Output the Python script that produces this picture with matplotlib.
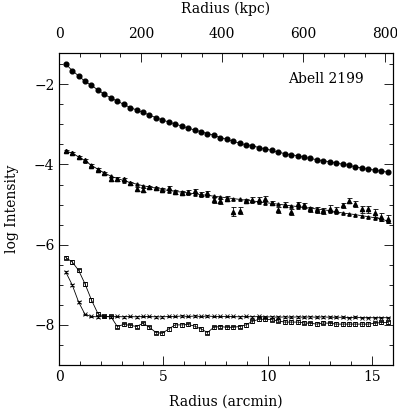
"""
Abell 2199 surface brightness profiles
"""

import matplotlib
matplotlib.use('Agg')
import matplotlib.pyplot as plt
from matplotlib.ticker import MultipleLocator
import numpy as np

# radial bins (arcmin), same grid for every profile
step = 0.309
nbins = 51
kpc_per_arcmin = 51.2

# filled circles
circ_y = [-1.49, -1.66, -1.79, -1.93, -2.03, -2.14, -2.25, -2.34, -2.42, -2.50,
          -2.58, -2.64, -2.70, -2.77, -2.83, -2.89, -2.94, -2.99, -3.04, -3.09,
          -3.14, -3.18, -3.23, -3.27, -3.33, -3.37, -3.42, -3.47, -3.51, -3.53,
          -3.58, -3.61, -3.65, -3.69, -3.73, -3.76, -3.78, -3.82, -3.85, -3.88,
          -3.91, -3.93, -3.97, -3.99, -4.02, -4.06, -4.09, -4.12, -4.14, -4.17,
          -4.19]

# smooth triangle profile
tri_model = [-3.66, -3.72, -3.81, -3.91, -4.02, -4.12, -4.21, -4.29, -4.35, -4.40,
             -4.45, -4.49, -4.53, -4.56, -4.59, -4.62, -4.65, -4.67, -4.69, -4.71,
             -4.73, -4.75, -4.77, -4.79, -4.81, -4.83, -4.85, -4.87, -4.89, -4.91,
             -4.93, -4.95, -4.97, -4.99, -5.01, -5.03, -5.05, -5.07, -5.09, -5.11,
             -5.13, -5.15, -5.18, -5.21, -5.23, -5.25, -5.28, -5.30, -5.33, -5.36,
             -5.41]

# triangles with error bars
tri_y = [-3.66, -3.71, -3.81, -3.90, -4.03, -4.13, -4.22, -4.36, -4.36, -4.37,
         -4.47, -4.62, -4.64, -4.57, -4.59, -4.63, -4.58, -4.68, -4.71, -4.68,
         -4.67, -4.73, -4.72, -4.88, -4.92, -4.85, -5.18, -5.15, -4.91, -4.88,
         -4.88, -4.85, -4.96, -5.14, -5.00, -5.19, -4.99, -5.02, -5.12, -5.14,
         -5.16, -5.10, -5.14, -5.02, -4.90, -4.99, -5.12, -5.12, -5.21, -5.31,
         -5.35]
tri_err = [0.02, 0.02, 0.02, 0.03, 0.03, 0.03, 0.03, 0.04, 0.04, 0.04,
           0.04, 0.05, 0.05, 0.04, 0.04, 0.04, 0.05, 0.05, 0.05, 0.05,
           0.05, 0.05, 0.05, 0.07, 0.07, 0.06, 0.11, 0.09, 0.06, 0.06,
           0.06, 0.06, 0.06, 0.08, 0.06, 0.08, 0.06, 0.06, 0.07, 0.08,
           0.08, 0.08, 0.08, 0.07, 0.06, 0.07, 0.08, 0.08, 0.09, 0.10,
           0.10]

# open squares
sq_y = [-6.32, -6.43, -6.64, -6.98, -7.38, -7.72, -7.79, -7.79, -8.04, -7.99,
        -8.01, -8.04, -7.96, -8.06, -8.19, -8.21, -8.10, -8.00, -8.00, -7.99,
        -8.03, -8.10, -8.19, -8.06, -8.04, -8.06, -8.06, -8.04, -8.00, -7.91,
        -7.86, -7.86, -7.87, -7.90, -7.93, -7.93, -7.93, -7.95, -7.96, -7.98,
        -7.95, -7.96, -7.98, -7.98, -7.98, -7.98, -7.98, -7.98, -7.96, -7.94,
        -7.94]

# crosses
cross_y = [-6.68, -7.00, -7.43, -7.74, -7.79, -7.80, -7.79, -7.80, -7.79, -7.80,
           -7.79, -7.80, -7.79, -7.79, -7.80, -7.80, -7.79, -7.79, -7.78, -7.79,
           -7.78, -7.79, -7.78, -7.79, -7.79, -7.79, -7.79, -7.80, -7.79, -7.80,
           -7.79, -7.80, -7.80, -7.81, -7.80, -7.81, -7.80, -7.81, -7.80, -7.81,
           -7.80, -7.81, -7.81, -7.81, -7.82, -7.81, -7.82, -7.82, -7.82, -7.82,
           -7.82]

r = step * np.arange(1, nbins + 1)

plt.rcParams['font.family'] = ['DejaVu Serif']
plt.rcParams['font.size'] = 10
plt.rcParams['axes.linewidth'] = 0.8

fig = plt.figure(figsize=(3.97, 4.09), dpi=100)
ax = fig.add_axes([59.3 / 397, 1 - 365 / 409, 333.4 / 397, 312 / 409])

lw = 0.6
ax.plot(r, circ_y, '-o', color='black', lw=lw, ms=3.4)
ax.plot(r, tri_model, '-^', color='black', lw=lw, ms=2.4)
ax.errorbar(r, tri_y, yerr=tri_err, fmt='^', color='black', ms=3.0,
            elinewidth=0.6, capsize=1.8, capthick=0.6)
ax.errorbar(r, sq_y, yerr=0.04, fmt='-s', color='black', mfc='none', mew=0.6,
            ms=3.2, lw=lw, elinewidth=0.5, capsize=1.5, capthick=0.5)
ax.errorbar(r, cross_y, yerr=0.02, fmt='-x', color='black', mew=0.6,
            ms=2.8, lw=lw, elinewidth=0.5, capsize=1.2, capthick=0.5)

ax.set_xlim(0, 16)
ax.set_ylim(-9, -1.22)
ax.xaxis.set_major_locator(MultipleLocator(5))
ax.xaxis.set_minor_locator(MultipleLocator(1))
ax.yaxis.set_major_locator(MultipleLocator(2))
ax.yaxis.set_minor_locator(MultipleLocator(0.5))
ax.tick_params(which='both', direction='in', right=True, top=False, width=0.6)
ax.tick_params(which='major', length=6.5)
ax.tick_params(which='minor', length=3.2)
ax.set_xlabel('Radius (arcmin)', labelpad=8)
ax.set_ylabel('log Intensity', labelpad=11)

ax.text(11.0, -1.87, 'Abell 2199', fontsize=10, va='center', ha='left')

top = ax.twiny()
top.set_xlim(0, 16 * kpc_per_arcmin)
top.xaxis.set_major_locator(MultipleLocator(200))
top.xaxis.set_minor_locator(MultipleLocator(50))
top.tick_params(which='both', direction='in', width=0.6)
top.tick_params(which='major', length=6.5, pad=9)
top.tick_params(which='minor', length=3.2)
top.set_xlabel('Radius (kpc)', labelpad=10)

plt.savefig('out.png', dpi=100)
plt.close()
